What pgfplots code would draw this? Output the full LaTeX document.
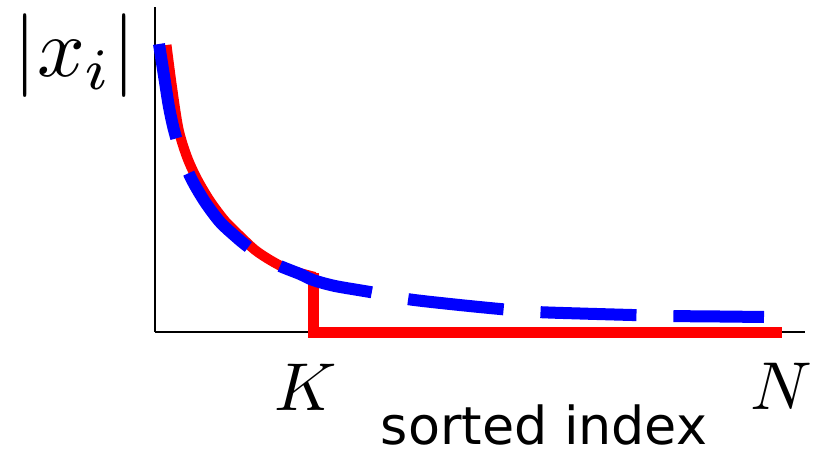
\documentclass[border=0pt]{standalone}
\usepackage{fontspec}
\newfontfamily\labelfont{DejaVu Sans}
\usepackage{pgfplots}
\pgfplotsset{compat=1.18}
\begin{document}
\begin{tikzpicture}
\begin{axis}[
  at={(0,0)}, anchor=origin,
  x=1bp, y=1bp,
  xmin=0, xmax=650, ymin=0, ymax=325,
  enlargelimits=false,
  axis lines=left,
  axis line style={-, line width=1.6bp, black},
  xtick=\empty, ytick=\empty,
  clip=false,
]
% red: top-K approximation (curve part)
\addplot[draw={rgb,255:red,255;green,0;blue,0}, line width=10bp, line cap=butt, smooth, tension=0.5] coordinates {
(11.5,287) (17,245) (23.5,203) (32,175) (42,153) (55,131) (70,111) (85,96) (100,82) (115,72) (130,64) (145,59) (160,55)
};
% red: step to zero after K
\addplot[draw={rgb,255:red,255;green,0;blue,0}, line width=11bp, line join=miter, line cap=butt] coordinates {
(159,59) (159,0) (627,0)
};
% blue: compressible signal
\addplot[draw={rgb,255:red,0;green,0;blue,255}, line width=12bp, line cap=butt, dash pattern=on 96bp off 37bp, smooth, tension=0.5] coordinates {
(4,288) (10,250) (14,225) (19,202) (27,175) (37,152) (50,130) (65,110) (80,96) (92,86) (108,75) (125,66) (145,58) (158,52) (180,46) (215,40) (252,33) (295,28) (345,23) (382,20) (425,18.5) (477,17) (513,16) (565,15.5) (609,15)
};
\node[anchor=center, inner sep=0pt, scale=8.4] at (axis cs:-80,276) {$|x_i|$};
\node[anchor=base, inner sep=0pt, scale=6.8] at (axis cs:151,-78) {$K$};
\node[anchor=base, inner sep=0pt, scale=6.8] at (axis cs:626,-77) {$N$};
\node[anchor=base, inner sep=0pt] at (axis cs:389,-112) {\labelfont\fontsize{52.5}{60}\selectfont sorted index};
\end{axis}
\pgfresetboundingbox
\path[use as bounding box] (-155bp,-117bp) rectangle (664bp,332bp);
\end{tikzpicture}
\end{document}
